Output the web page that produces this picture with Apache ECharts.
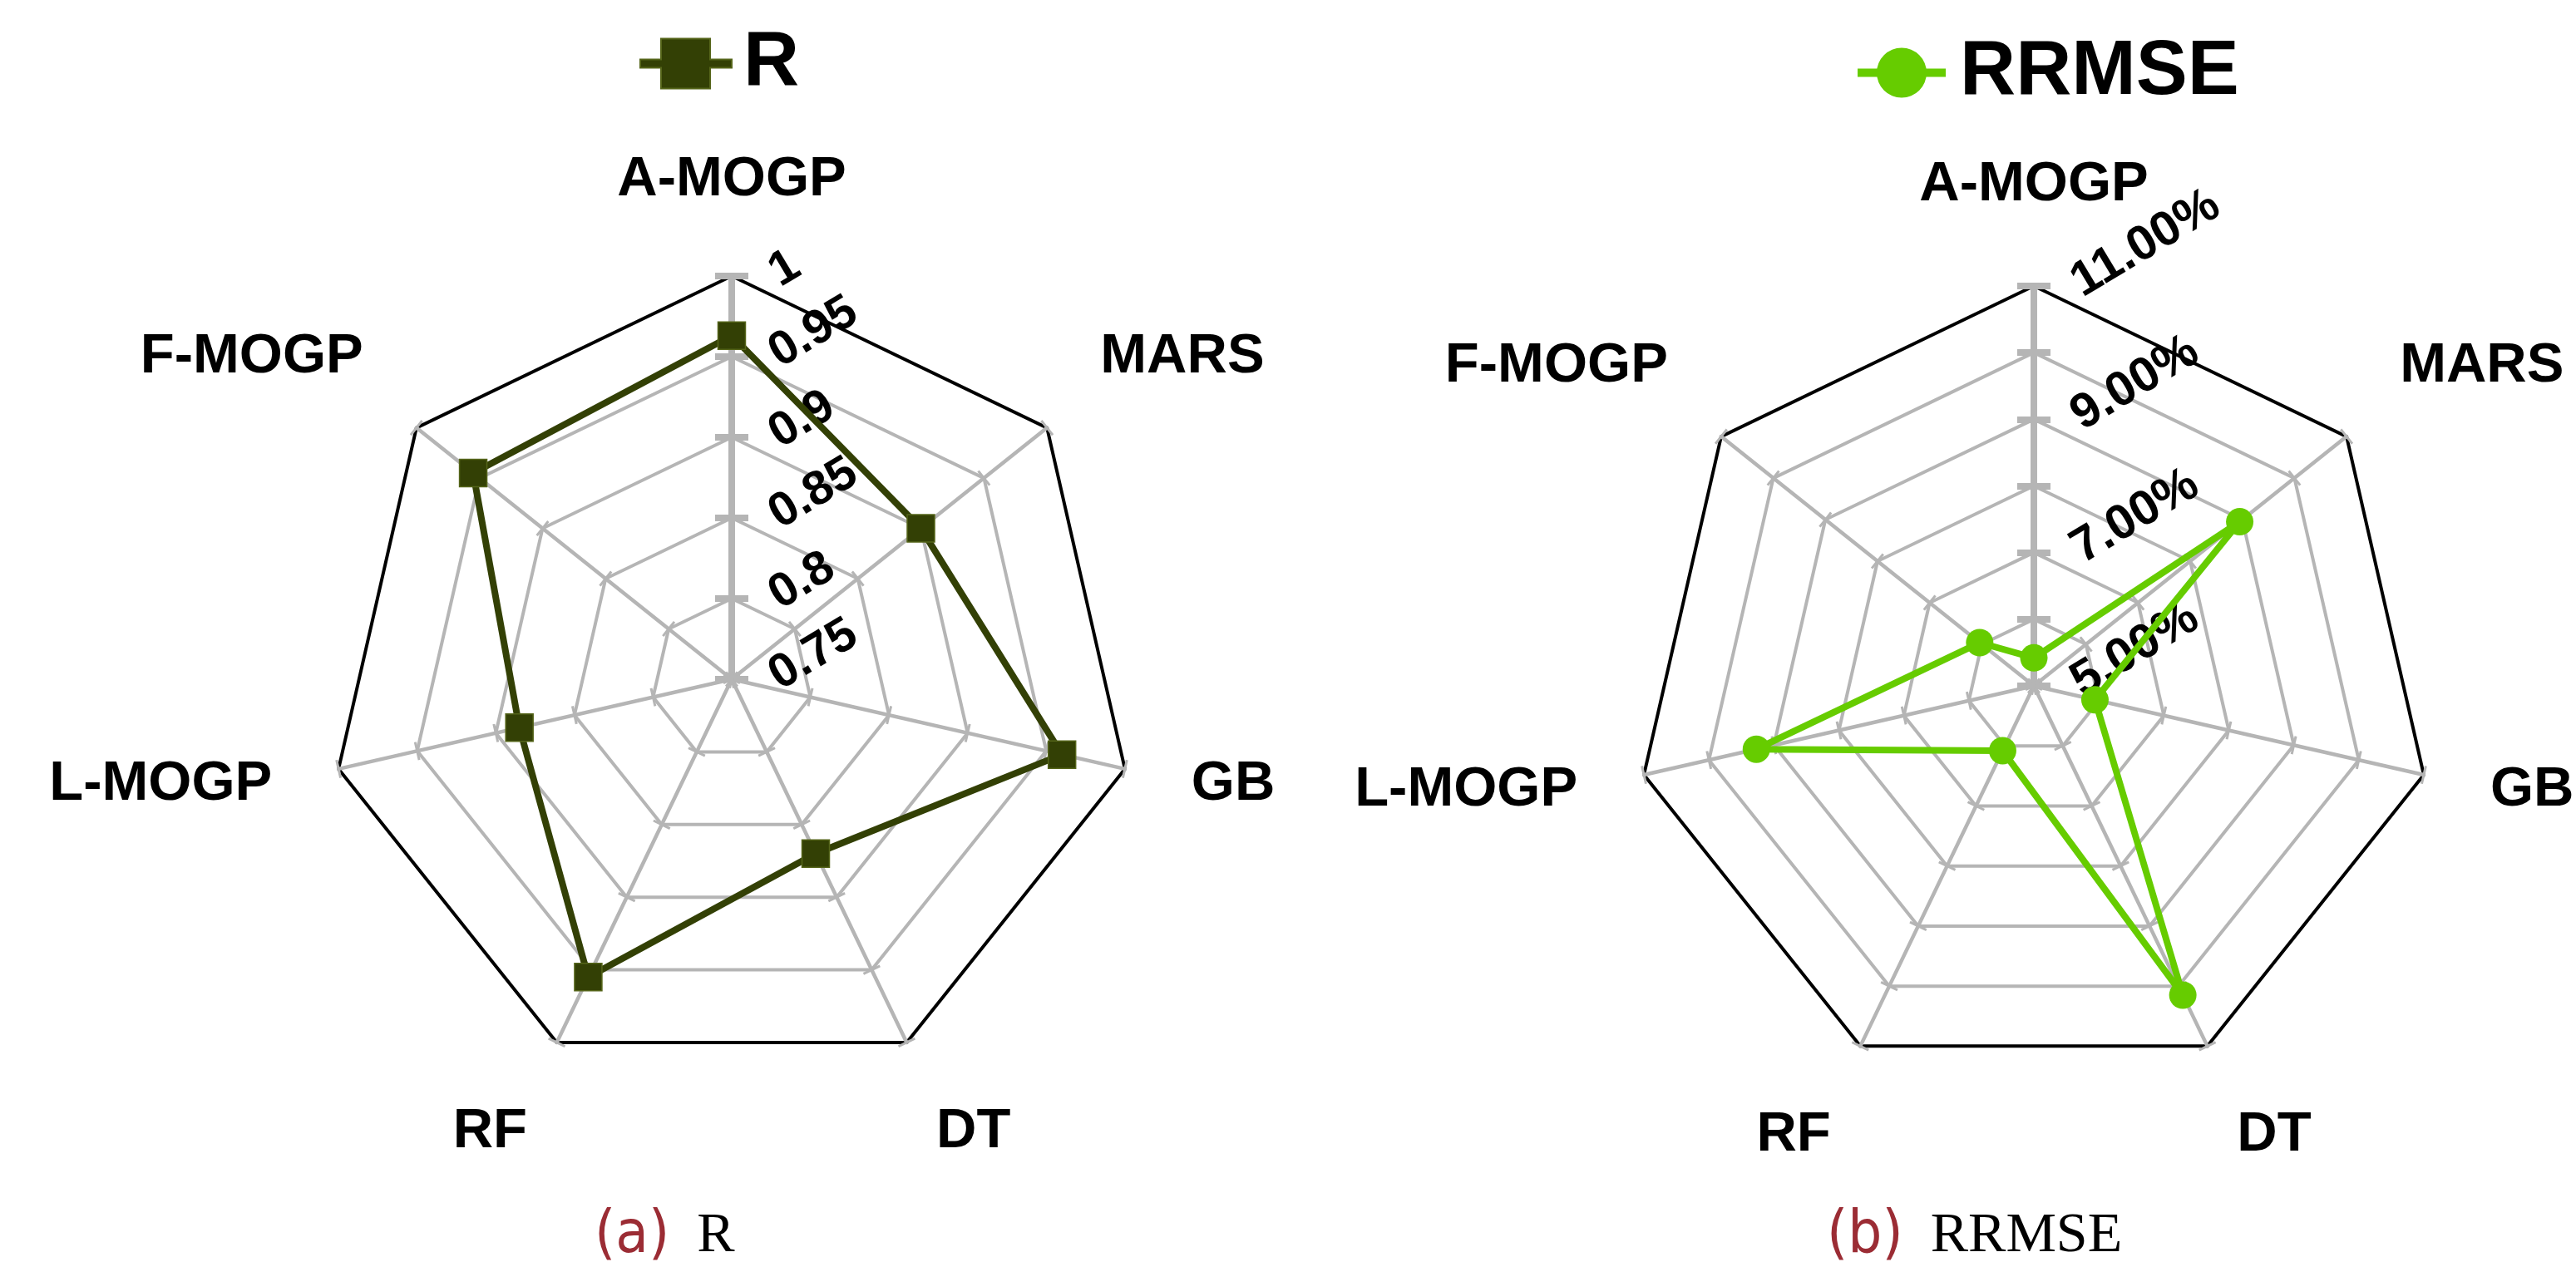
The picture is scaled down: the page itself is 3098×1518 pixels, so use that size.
<!DOCTYPE html>
<html>
<head>
<meta charset="utf-8">
<script src="https://cdn.jsdelivr.net/npm/echarts@6/dist/echarts.min.js"></script>
<style>
  html, body { margin: 0; padding: 0; background: #ffffff; }
  #chart { width: 3098px; height: 1518px; }
</style>
</head>
<body>
<div id="chart"></div>
<script>
// Models compared on each radar axis (clockwise from the top)
const models = ['A-MOGP', 'MARS', 'GB', 'DT', 'RF', 'L-MOGP', 'F-MOGP'];

// Correlation coefficient R per model
const rValues = [0.963, 0.900, 0.960, 0.870, 0.955, 0.885, 0.955];
// Relative root mean squared error per model (in percent)
const rrmseValues = [5.42, 8.95, 5.94, 10.15, 6.08, 9.27, 6.04];

// Value ranges of the two radars: [min, max, number of rings]
const rRange = [0.75, 1, 5];
const rrmseRange = [5, 11, 6];

// Sub-figure captions
const captionTags = ['(a)', '(b)'];

const FONT = "'Liberation Sans', Arial, Helvetica, sans-serif";
const NARROW = "'Liberation Sans Narrow', 'DejaVu Sans Condensed', Lato, sans-serif";
const SERIF = "'Liberation Serif', 'Times New Roman', serif";
const GRID_GRAY = '#b5b5b5';
const R_COLOR = '#334005';
const RRMSE_COLOR = '#66cc00';

// vertical placement of each axis name relative to its anchor
const nameVAlign = ['bottom', 'bottom', 'middle', 'top', 'top', 'middle', 'bottom'];

// ECharts lays radar axes out counter-clockwise; reorder so the
// models run clockwise from the top axis.
function clockwise(arr) {
  return [arr[0]].concat(arr.slice(1).reverse());
}

// side: +1 draws ticks on one side of each spoke, -1 on the other side
function buildIndicators(range, withNames, labelOpt, side) {
  const names = clockwise(models);
  const valign = clockwise(nameVAlign);
  return names.map(function (name, i) {
    const first = i === 0;
    const ind = {
      name: withNames ? name : '',
      min: range[0],
      max: range[1],
      axisLine: { lineStyle: { color: GRID_GRAY, width: first ? 8 : 4.5 } },
      axisTick: { length: side * (first ? 20 : 11), lineStyle: { color: GRID_GRAY, width: first ? 8 : 3 } },
      nameTextStyle: { verticalAlign: valign[i] }
    };
    if (first && labelOpt) {
      ind.axisLabel = {
        show: true,
        rotate: 31,
        margin: -50,
        align: 'left',
        verticalAlign: 'middle',
        color: '#000',
        fontFamily: FONT,
        fontWeight: 'bold',
        fontSize: labelOpt.size,
        formatter: labelOpt.formatter
      };
    }
    return ind;
  });
}

function ringColors(n) {
  const c = [];
  for (let i = 0; i < n; i++) c.push(GRID_GRAY);
  c.push('#000000');
  return c;
}

function mainRadar(center, radius, range, labelOpt) {
  return {
    center: center,
    radius: radius,
    startAngle: 90,
    shape: 'polygon',
    splitNumber: range[2],
    indicator: buildIndicators(range, true, labelOpt, 1),
    axisName: { show: true, color: '#000', fontFamily: FONT, fontWeight: 'bold', fontSize: 67 },
    axisNameGap: 82,
    axisLine: { show: true },
    axisTick: { show: true },
    axisLabel: { show: false },
    splitLine: { show: true, lineStyle: { color: ringColors(range[2]), width: 4 } },
    splitArea: { show: false }
  };
}

// second copy of each radar draws the other half of the cross tick marks
function tickRadar(center, radius, range) {
  return {
    center: center,
    radius: radius,
    startAngle: 90,
    shape: 'polygon',
    splitNumber: range[2],
    indicator: buildIndicators(range, false, null, -1),
    axisName: { show: false },
    axisLine: { show: false },
    axisTick: { show: true },
    axisLabel: { show: false },
    splitLine: { show: false },
    splitArea: { show: false }
  };
}

const rLabel = {
  size: 58,
  formatter: function (v) { return String(parseFloat(v.toFixed(2))); }
};
const rrmseLabel = {
  size: 59,
  formatter: function (v) { return Math.round(v) % 2 === 1 ? v.toFixed(2) + '%' : ''; }
};

const squareIcon = 'path://M0,25H25V0H84V25H110V35H84V60H25V35H0Z';
const dotIcon = 'path://M0,25H106V35H0Z M53,0A30,30 0 1,1 53,60A30,30 0 1,1 53,0Z';

const legendText = { color: '#000', fontFamily: FONT, fontWeight: 'bold', fontSize: 93 };

function caption(tag, name, left) {
  return {
    text: '{t|' + tag + '}{n|' + name + '}',
    left: left, top: 1442,
    textStyle: {
      fontWeight: 'normal',
      rich: {
        t: { fontFamily: NARROW, fontWeight: 'normal', fontSize: 72, color: '#9b2c34', lineHeight: 80 },
        n: { fontFamily: SERIF, fontWeight: 'normal', fontSize: 68, color: '#000', lineHeight: 80, padding: [0, 0, 0, 33] }
      }
    }
  };
}

const option = {
  animation: false,
  backgroundColor: '#ffffff',
  title: [
    caption(captionTags[0], 'R', 710),
    caption(captionTags[1], 'RRMSE', 2192)
  ],
  legend: [
    {
      data: [{ name: 'R', icon: squareIcon }],
      left: 769, top: 30, padding: 0,
      itemWidth: 110, itemHeight: 60,
      selectedMode: false,
      textStyle: Object.assign({ padding: [0, 0, 0, 9] }, legendText)
    },
    {
      data: [{ name: 'RRMSE', icon: dotIcon }],
      left: 2234, top: 41, padding: 0,
      itemWidth: 106, itemHeight: 60,
      selectedMode: false,
      textStyle: Object.assign({ padding: [0, 0, 0, 12] }, legendText)
    }
  ],
  radar: [
    mainRadar([880, 817], 485, rRange, rLabel),
    tickRadar([880, 817], 485, rRange),
    mainRadar([2446, 825], 481, rrmseRange, rrmseLabel),
    tickRadar([2446, 825], 481, rrmseRange)
  ],
  series: [
    {
      type: 'radar',
      radarIndex: 0,
      z: 5,
      symbol: 'rect',
      symbolSize: 33,
      lineStyle: { color: R_COLOR, width: 8 },
      itemStyle: { color: R_COLOR, borderColor: '#55651a', borderWidth: 1.5 },
      emphasis: { disabled: true },
      data: [{ name: 'R', value: clockwise(rValues) }]
    },
    {
      type: 'radar',
      radarIndex: 2,
      z: 5,
      symbol: 'circle',
      symbolSize: 33,
      lineStyle: { color: RRMSE_COLOR, width: 8 },
      itemStyle: { color: RRMSE_COLOR },
      emphasis: { disabled: true },
      data: [{ name: 'RRMSE', value: clockwise(rrmseValues) }]
    }
  ]
};

const chart = echarts.init(document.getElementById('chart'), null, { width: 3098, height: 1518 });
chart.setOption(option);
</script>
</body>
</html>
